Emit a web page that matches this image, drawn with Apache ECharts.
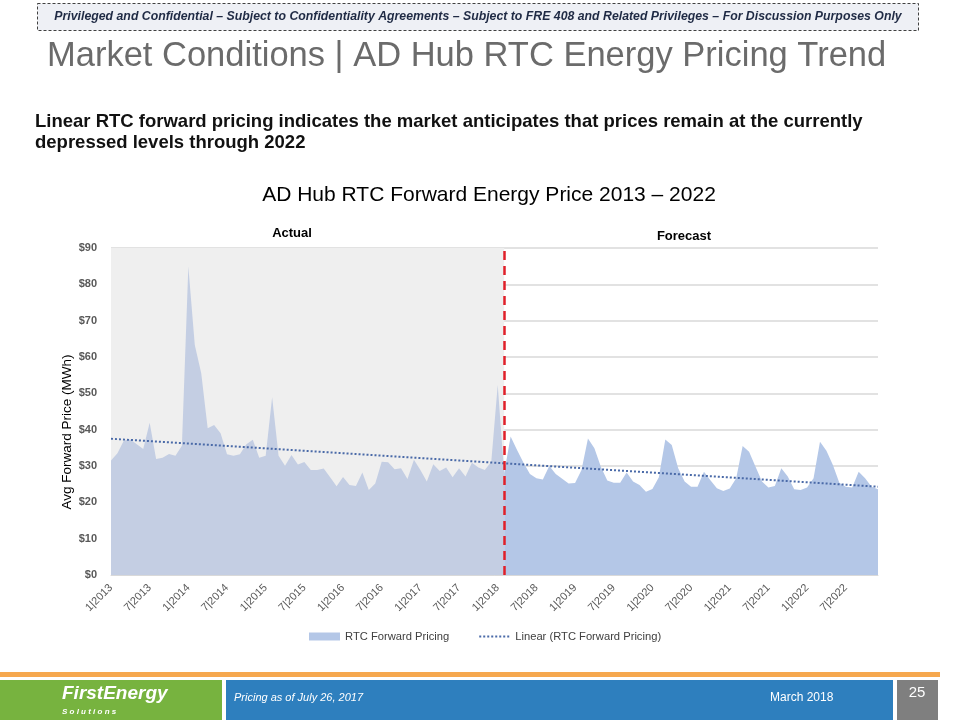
<!DOCTYPE html>
<html><head><meta charset="utf-8">
<script src="https://cdn.jsdelivr.net/npm/echarts@6/dist/echarts.min.js"></script>
<style>html,body{margin:0;padding:0;background:#fff}#c{width:960px;height:720px}</style>
</head><body><div id="c"></div>
<script>
// Categories: monthly, 1|2013 .. 12|2022
const years = [2013,2014,2015,2016,2017,2018,2019,2020,2021,2022];
const categories = [];
years.forEach(y => { for (let m = 1; m <= 12; m++) categories.push(m + '|' + y); });

// Actual RTC forward pricing, 1|2013 .. 2|2018 ($/MWh)
const actualValues = [
  31.5,33.5,37.0,37.3,36.0,34.7,41.9,31.9,32.3,33.3,32.8,35.6,
  84.9,63.3,55.5,40.4,41.3,39.0,33.2,32.8,33.2,36.0,37.2,32.3,
  32.8,48.9,32.8,30.1,33.0,30.4,31.1,28.9,28.9,29.3,26.9,24.4,
  27.0,24.8,24.5,28.2,23.4,25.2,31.2,31.0,29.1,29.4,26.4,31.7,
  28.9,25.7,30.5,28.6,29.6,26.9,29.4,27.1,30.9,29.6,28.9,31.2,
  52.3,28.0
];
// Forecast RTC forward pricing, 2|2018 .. 12|2022 ($/MWh)
const forecastValues = [
  28.0,38.1,34.4,30.9,27.8,26.6,26.3,30.0,27.8,26.5,25.2,
  25.3,28.9,37.6,34.9,29.8,26.0,25.4,25.4,28.2,25.7,24.8,22.9,
  23.7,26.9,37.3,35.8,29.4,25.7,24.3,24.3,28.4,26.1,23.9,23.1,
  23.8,26.6,35.5,33.9,29.8,25.7,24.1,24.5,29.4,27.1,23.6,23.4,
  24.1,26.6,36.7,34.2,30.3,25.4,24.3,24.1,28.4,26.6,24.3,23.6
];
// Linear trend end points (first month, last month)
const trendValues = [37.5, 24.3];
const yTicks = [0,10,20,30,40,50,60,70,80,90];
const splitIndex = actualValues.length - 1; // red divider month index

const FONT = 'Liberation Sans, Arial, sans-serif';
const actualData = categories.map((c,i) => i < actualValues.length ? actualValues[i] : null);
const forecastData = categories.map((c,i) => i >= splitIndex ? forecastValues[i - splitIndex] : null);
const trendData = [[0, trendValues[0]], [categories.length - 1, trendValues[1]]];

const chart = echarts.init(document.getElementById('c'), null, {renderer: 'canvas'});
chart.setOption({
  animation: false,
  backgroundColor: '#ffffff',
  textStyle: {fontFamily: FONT},
  grid: {left: 111, right: 82, top: 248, bottom: 145, containLabel: false},
  xAxis: {
    type: 'category', data: categories, boundaryGap: false,
    axisLine: {show: true, lineStyle: {color: '#d9d9d9', width: 1}},
    axisTick: {show: false},
    axisLabel: {interval: 5, rotate: 45, color: '#595959', fontSize: 11, fontFamily: FONT, margin: 11},
    splitLine: {show: false}
  },
  yAxis: {
    type: 'value', min: yTicks[0], max: yTicks[yTicks.length - 1], interval: 10,
    axisLine: {show: false}, axisTick: {show: false},
    axisLabel: {formatter: v => '$' + v, color: '#595959', fontSize: 11, fontWeight: 'bold', fontFamily: FONT, margin: 14},
    splitLine: {show: true, lineStyle: {color: '#d9d9d9', width: 1.5}}
  },
  legend: {
    left: 304, top: 626, itemGap: 29, itemWidth: 31, itemHeight: 8,
    textStyle: {color: '#404040', fontSize: 11.2, fontFamily: FONT},
    data: [
      {name: 'RTC Forward Pricing', icon: 'rect', itemStyle: {color: '#b4c7e7'}},
      {name: 'Linear (RTC Forward Pricing)', itemStyle: {opacity: 0}, lineStyle: {color: '#4a6aa8', width: 2, type: [2, 2]}}
    ]
  },
  series: [
    {
      name: 'bg', type: 'line', z: -1, data: categories.map(() => null), silent: true,
      markArea: {silent: true, itemStyle: {color: '#efefef'}, data: [[{xAxis: 0}, {xAxis: splitIndex}]]}
    },
    {
      name: 'RTC Forward Pricing', type: 'line', data: actualData, showSymbol: false, symbol: 'none',
      lineStyle: {width: 0}, areaStyle: {color: '#c4cee3', opacity: 1}, z: 2
    },
    {
      name: 'RTC Forward Pricing', type: 'line', data: forecastData, showSymbol: false, symbol: 'none',
      lineStyle: {width: 0}, areaStyle: {color: '#b4c7e7', opacity: 1}, z: 2
    },
    {
      name: 'Linear (RTC Forward Pricing)', type: 'line', data: trendData, symbol: 'none', showSymbol: false,
      lineStyle: {color: '#4a6aa8', width: 2, type: [2, 2]}, itemStyle: {color: '#4a6aa8'}, z: 3,
      markLine: {
        silent: true, symbol: 'none', label: {show: false},
        lineStyle: {color: '#e0202a', width: 2.5, type: [9, 6]},
        data: [{xAxis: splitIndex}]
      }
    }
  ],
  graphic: [
    {type: 'rect', shape: {x: 37.5, y: 3.5, width: 881, height: 27}, style: {fill: '#eef0f5', stroke: '#404040', lineWidth: 1, lineDash: [3, 2]}},
    {type: 'text', x: 478, y: 17, style: {text: 'Privileged and Confidential – Subject to Confidentiality Agreements – Subject to FRE 408 and Related Privileges – For Discussion Purposes Only', font: 'italic bold 12.3px ' + FONT, fill: '#1f2a44', textAlign: 'center', textVerticalAlign: 'middle'}},
    {type: 'text', x: 47, y: 56, style: {text: 'Market Conditions | AD Hub RTC Energy Pricing Trend', font: '34.5px ' + FONT, fill: '#6b6b6b', textVerticalAlign: 'middle'}},
    {type: 'text', x: 35, y: 122, style: {text: 'Linear RTC forward pricing indicates the market anticipates that prices remain at the currently', font: 'bold 18.5px ' + FONT, fill: '#111', textVerticalAlign: 'middle'}},
    {type: 'text', x: 35, y: 143, style: {text: 'depressed levels through 2022', font: 'bold 18.5px ' + FONT, fill: '#111', textVerticalAlign: 'middle'}},
    {type: 'text', x: 489, y: 195, style: {text: 'AD Hub RTC Forward Energy Price 2013 – 2022', font: '21px ' + FONT, fill: '#000', textAlign: 'center', textVerticalAlign: 'middle'}},
    {type: 'text', x: 292, y: 233, style: {text: 'Actual', font: 'bold 13px ' + FONT, fill: '#000', textAlign: 'center', textVerticalAlign: 'middle'}},
    {type: 'text', x: 684, y: 236, style: {text: 'Forecast', font: 'bold 13px ' + FONT, fill: '#000', textAlign: 'center', textVerticalAlign: 'middle'}},
    {type: 'text', x: 67, y: 432, rotation: Math.PI / 2, style: {text: 'Avg Forward Price (MWh)', font: '13.5px ' + FONT, fill: '#000', textAlign: 'center', textVerticalAlign: 'middle'}},
    {type: 'rect', shape: {x: 0, y: 672, width: 940, height: 5}, style: {fill: '#f6a84e'}},
    {type: 'rect', shape: {x: 0, y: 680, width: 222, height: 40}, style: {fill: '#77b33f'}},
    {type: 'rect', shape: {x: 226, y: 680, width: 667, height: 40}, style: {fill: '#2e7fbe'}},
    {type: 'rect', shape: {x: 897, y: 680, width: 41, height: 40}, style: {fill: '#7f7f7f'}},
    {type: 'text', x: 62, y: 694, style: {text: 'FirstEnergy', font: 'italic bold 19px ' + FONT, fill: '#fff', textVerticalAlign: 'middle'}},
    {type: 'text', x: 62, y: 712, style: {text: 'S o l u t i o n s', font: 'italic bold 8px ' + FONT, fill: '#fff', textVerticalAlign: 'middle'}},
    {type: 'text', x: 234, y: 698, style: {text: 'Pricing as of July 26, 2017', font: 'italic 11px Liberation Sans Narrow, ' + FONT, fill: '#fff', textVerticalAlign: 'middle'}},
    {type: 'text', x: 770, y: 698, style: {text: 'March 2018', font: '12px Liberation Sans Narrow, ' + FONT, fill: '#fff', textVerticalAlign: 'middle'}},
    {type: 'text', x: 917, y: 693, style: {text: '25', font: '15px Liberation Sans Narrow, ' + FONT, fill: '#fff', textAlign: 'center', textVerticalAlign: 'middle'}}
  ]
});
</script></body></html>
